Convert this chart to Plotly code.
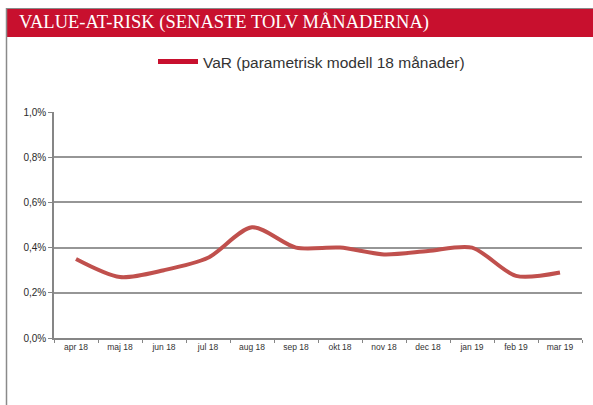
import plotly.graph_objects as go

months = ["apr 18", "maj 18", "jun 18", "jul 18", "aug 18", "sep 18",
          "okt 18", "nov 18", "dec 18", "jan 19", "feb 19", "mar 19"]
var_values = [0.35, 0.27, 0.30, 0.355, 0.49, 0.40, 0.40, 0.37, 0.385, 0.40, 0.275, 0.29]  # percent
y_ticks = [0.0, 0.2, 0.4, 0.6, 0.8, 1.0]
series_name = "VaR (parametrisk modell 18 månader)"
title_text = "VALUE-AT-RISK (SENASTE TOLV MÅNADERNA)"

W, H = 593, 405
L, R, T, B = 54, 11, 112, 67
PW, PH = W - L - R, H - T - B

def px(x):
    return (x - L) / PW

def py(y):
    return 1 - (y - T) / PH

fig = go.Figure()
fig.add_trace(go.Scatter(
    x=months, y=[v / 100 for v in var_values], mode="lines",
    line=dict(color="#C0504D", width=4, shape="spline", smoothing=0.8),
    showlegend=False, name=series_name, hoverinfo="x+y"))
fig.add_trace(go.Scatter(
    x=[None], y=[None], mode="lines", name=series_name,
    line=dict(color="#C8102E", width=5), showlegend=True))

fig.update_layout(
    width=W, height=H, margin=dict(l=L, r=R, t=T, b=B),
    paper_bgcolor="white", plot_bgcolor="white",
    separators=", ",
    showlegend=True,
    legend=dict(orientation="h", x=px(153), y=py(62), xanchor="left", yanchor="middle",
                font=dict(family="Liberation Sans, Arial, sans-serif", size=15.5, color="#333333"),
                itemwidth=40, bgcolor="rgba(0,0,0,0)"),
    xaxis=dict(type="category", tickson="boundaries", ticks="outside", ticklen=3,
               tickcolor="#868686", showline=True, linecolor="#868686", linewidth=1.5,
               showgrid=False,
               tickfont=dict(family="Liberation Sans, Arial, sans-serif", size=8.5, color="#333333"),
               range=[-0.5, 11.5]),
    yaxis=dict(range=[0, 0.01], tickvals=[v / 100 for v in y_ticks], tickformat=".1%",
               ticks="outside", ticklen=4, tickcolor="#868686",
               showline=True, linecolor="#868686", linewidth=1.5,
               showgrid=True, gridcolor="#969696", gridwidth=1.5, zeroline=False,
               tickfont=dict(family="Liberation Sans, Arial, sans-serif", size=10, color="#2A2A2A")),
    shapes=[
        dict(type="rect", xref="paper", yref="paper", x0=px(7), x1=px(593), y0=py(37), y1=py(9),
             fillcolor="#C8102E", line=dict(width=0), layer="above"),
        dict(type="line", xref="paper", yref="paper", x0=px(6), x1=px(593), y0=py(8.5), y1=py(8.5),
             line=dict(color="#8A8A8A", width=1)),
        dict(type="line", xref="paper", yref="paper", x0=px(6.5), x1=px(6.5), y0=py(8), y1=py(405),
             line=dict(color="#8A8A8A", width=1.5)),
    ],
    annotations=[
        dict(text=title_text, xref="paper", yref="paper", x=px(17), y=py(23),
             xanchor="left", yanchor="middle", showarrow=False,
             font=dict(family="Liberation Serif, DejaVu Serif, serif", size=18.5, color="white")),
    ],
)

fig.write_html("out.html", config={"displayModeBar": False},
               post_script="document.body.style.margin='0';document.body.style.overflow='hidden';")
